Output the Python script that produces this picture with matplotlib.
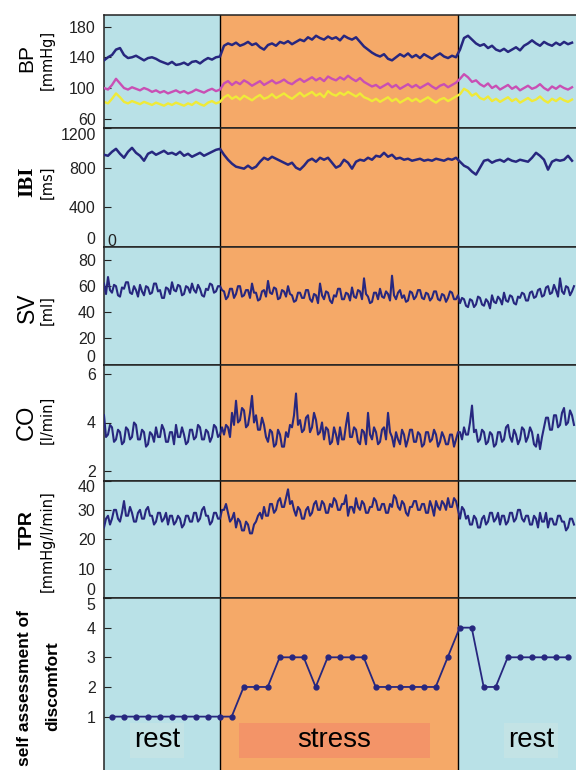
import numpy as np
import matplotlib
matplotlib.use('Agg')
import matplotlib.pyplot as plt
from matplotlib.patches import Rectangle

plt.rcParams['font.family'] = ['Liberation Sans', 'DejaVu Sans']

# time axis in minutes: rest 0-9.8, stress 9.8-30, rest until the right edge
REST_END = 9.83
STRESS_END = 30.0
T_END = 40.0
STEP = 0.339          # sampling of the smoother traces
STEP_FINE = 0.1695    # sampling of the noisy traces
SEG_START = [0.0, 10.17, 30.17]

# blood pressure [mmHg]: systolic (navy), mean (pink), diastolic (yellow)
bp_sys_rest1 = [136, 140, 143, 150, 152, 143, 139, 140, 142, 139, 136, 139, 140, 138, 135,
                133, 131, 134, 130, 131, 133, 130, 134, 135, 132, 136, 139, 137, 140, 141]
bp_sys_stress = [155, 158, 156, 159, 155, 157, 160, 156, 158, 153, 150, 156, 158, 155, 160,
                 158, 161, 157, 160, 163, 161, 166, 163, 168, 165, 163, 167, 164, 166, 162,
                 168, 165, 163, 166, 160, 154, 150, 146, 143, 141, 144, 138, 136, 140, 144,
                 141, 145, 140, 143, 139, 144, 141, 138, 142, 145, 141, 139, 142, 140]
bp_sys_rest2 = [150, 165, 168, 163, 158, 155, 157, 152, 155, 150, 148, 151, 147, 150, 153,
                149, 155, 158, 162, 158, 155, 160, 157, 155, 159, 156, 160, 157, 159]

bp_mean_rest1 = [100, 98, 104, 112, 106, 100, 98, 101, 99, 97, 100, 98, 95, 97, 94,
                 96, 93, 95, 97, 94, 96, 93, 95, 98, 96, 94, 97, 99, 96, 98]
bp_mean_stress = [106, 109, 104, 108, 105, 110, 107, 103, 106, 109, 104, 107, 110, 106, 108,
                  111, 107, 105, 109, 112, 108, 111, 114, 110, 113, 109, 115, 112, 110, 114,
                  111, 116, 112, 109, 113, 108, 105, 102, 104, 100, 103, 106, 101, 104, 99,
                  102, 105, 101, 104, 100, 103, 106, 102, 99, 103, 105, 101, 104, 107]
bp_mean_rest2 = [112, 118, 114, 108, 110, 105, 102, 106, 100, 103, 98, 101, 104, 99, 102,
                 97, 100, 103, 99, 101, 105, 100, 97, 102, 99, 103, 100, 98, 101]

bp_dia_rest1 = [82, 80, 86, 93, 88, 82, 80, 83, 81, 79, 82, 80, 78, 81, 79,
                77, 80, 78, 81, 79, 77, 80, 78, 82, 79, 77, 81, 83, 80, 82]
bp_dia_stress = [88, 91, 86, 89, 85, 90, 87, 84, 88, 91, 86, 88, 92, 87, 90,
                 93, 89, 86, 90, 94, 89, 92, 95, 90, 93, 88, 96, 92, 90, 94,
                 91, 95, 92, 89, 93, 88, 86, 83, 86, 82, 85, 88, 83, 86, 81,
                 84, 87, 83, 86, 82, 85, 88, 84, 81, 85, 87, 83, 86, 89]
bp_dia_rest2 = [92, 99, 96, 90, 93, 87, 85, 89, 83, 86, 82, 85, 88, 83, 86,
                81, 84, 87, 83, 85, 89, 84, 81, 86, 83, 87, 84, 82, 85]

# inter-beat interval [ms]
ibi_rest1 = [930, 920, 960, 990, 940, 900, 960, 1000, 950, 920, 870, 940, 960, 930, 950,
             970, 940, 950, 930, 960, 920, 940, 910, 930, 950, 920, 940, 960, 980, 990]
ibi_stress = [930, 880, 840, 810, 800, 790, 820, 790, 810, 860, 900, 880, 910, 890, 870,
              850, 830, 850, 800, 780, 820, 870, 890, 860, 900, 880, 900, 850, 800, 820,
              880, 850, 790, 860, 880, 870, 900, 880, 920, 910, 950, 910, 930, 890, 900,
              880, 890, 870, 880, 890, 870, 880, 870, 890, 880, 870, 890, 880, 900]
ibi_rest2 = [860, 820, 800, 760, 730, 800, 870, 880, 850, 870, 880, 860, 890, 870, 860,
             880, 870, 860, 900, 950, 920, 880, 780, 860, 880, 870, 880, 920, 870]

# stroke volume [ml]
sv_rest1 = [62, 54, 67, 57, 55, 61, 60, 53, 52, 59, 58, 63, 63, 55, 54, 60, 57, 52, 61, 56,
            53, 60, 59, 54, 55, 62, 62, 56, 57, 51, 51, 59, 58, 54, 63, 57, 56, 61, 60, 53,
            54, 60, 59, 55, 62, 57, 55, 61, 58, 53, 52, 58, 57, 62, 61, 55, 56, 60, 60, 57]
sv_stress = [56, 50, 52, 58, 58, 51, 54, 60, 60, 52, 53, 57, 57, 51, 62, 55, 55, 49, 50, 56,
             57, 52, 64, 55, 54, 59, 58, 50, 51, 57, 56, 52, 60, 54, 53, 48, 49, 55, 55, 51,
             51, 57, 57, 50, 48, 54, 53, 47, 62, 53, 50, 56, 55, 49, 47, 53, 52, 58, 58, 50,
             50, 55, 54, 49, 59, 52, 51, 57, 56, 50, 66, 54, 52, 47, 48, 55, 55, 50, 58, 52,
             51, 56, 54, 49, 68, 53, 50, 55, 57, 51, 53, 48, 49, 56, 55, 50, 52, 57, 57, 51,
             50, 55, 54, 49, 51, 56, 56, 50, 49, 54, 53, 48, 51, 56, 55, 50, 50, 53]
sv_rest2 = [47, 51, 50, 45, 44, 50, 49, 44, 46, 52, 51, 46, 45, 50, 48, 43, 53, 48, 47, 52,
            50, 46, 55, 49, 48, 53, 52, 47, 46, 52, 51, 55, 54, 49, 49, 55, 56, 51, 52, 57,
            58, 52, 53, 59, 60, 54, 55, 61, 57, 52, 66, 56, 54, 60, 59, 53, 56, 60]

# cardiac output [l/min]
co_rest1 = [4.3, 3.4, 3.5, 3.9, 3.8, 3.2, 3.3, 3.7, 3.6, 3.1, 3.2, 3.8, 3.7, 3.3, 3.4, 4.0,
            3.9, 3.3, 3.3, 3.7, 3.6, 3.0, 3.1, 3.6, 3.5, 3.2, 3.8, 3.4, 3.4, 3.9, 3.7, 3.2,
            3.2, 3.6, 3.6, 3.1, 3.9, 3.4, 3.4, 3.8, 3.5, 3.1, 3.2, 3.7, 3.7, 3.3, 3.4, 3.9,
            3.8, 3.3, 3.3, 3.7, 3.6, 3.2, 3.4, 3.9, 3.8, 3.4, 3.5, 3.8]
co_stress = [3.5, 3.9, 3.8, 3.4, 4.4, 3.9, 4.9, 4.0, 4.1, 4.6, 4.5, 3.8, 3.9, 4.4, 5.1, 4.0,
             4.3, 3.7, 3.7, 4.2, 3.9, 3.4, 3.2, 3.7, 3.6, 3.0, 3.1, 3.7, 3.5, 3.0, 3.0, 3.6,
             3.4, 3.9, 3.8, 4.3, 5.2, 3.9, 4.1, 3.6, 3.7, 4.2, 4.3, 3.6, 3.8, 4.4, 4.1, 3.5,
             3.6, 4.0, 3.3, 3.8, 3.7, 3.1, 3.2, 3.8, 3.5, 3.1, 3.8, 3.3, 3.3, 3.9, 4.4, 3.4,
             3.4, 3.8, 3.7, 3.2, 3.1, 3.7, 3.6, 3.1, 4.4, 3.5, 3.3, 3.8, 3.6, 3.1, 3.2, 3.7,
             3.8, 3.3, 4.4, 3.6, 3.4, 3.0, 3.6, 3.3, 3.1, 3.7, 3.5, 3.0, 3.3, 3.7, 3.7, 3.2,
             3.2, 3.6, 3.5, 3.0, 3.1, 3.6, 3.6, 3.2, 3.3, 3.7, 3.5, 3.0, 3.2, 3.6, 3.4, 3.1,
             3.1, 3.5, 3.5, 3.0, 3.3, 3.6]
co_rest2 = [3.6, 3.3, 3.8, 3.5, 3.5, 4.0, 4.7, 3.6, 3.7, 3.2, 3.3, 3.7, 3.6, 3.1, 3.2, 3.6,
            3.5, 3.0, 3.1, 3.6, 3.6, 3.2, 3.3, 3.8, 3.9, 3.4, 3.2, 3.7, 3.5, 3.1, 3.3, 3.8,
            3.7, 3.2, 3.4, 3.8, 3.6, 3.1, 3.0, 3.5, 2.9, 3.4, 3.8, 4.2, 4.2, 3.7, 3.7, 4.3,
            4.3, 3.8, 3.9, 4.4, 4.6, 3.9, 4.0, 4.5, 4.3, 3.9]

# total peripheral resistance [mmHg/l/min]
tpr_rest1 = [24, 27, 28, 25, 27, 30, 30, 27, 26, 29, 33, 28, 28, 31, 29, 26, 26, 29, 30, 27,
             27, 30, 31, 28, 28, 25, 26, 29, 29, 26, 27, 29, 25, 28, 28, 25, 26, 28, 27, 24,
             25, 28, 28, 26, 26, 29, 29, 26, 27, 30, 31, 28, 28, 25, 26, 29, 29, 27, 27, 30]
tpr_stress = [30, 32, 29, 26, 27, 29, 24, 27, 26, 23, 23, 26, 25, 22, 22, 25, 26, 28, 29, 27,
              31, 28, 28, 32, 32, 29, 30, 33, 34, 31, 31, 34, 37, 32, 33, 30, 28, 31, 30, 27,
              27, 30, 31, 28, 29, 32, 33, 30, 30, 33, 32, 29, 29, 32, 31, 34, 33, 30, 30, 32,
              32, 35, 28, 31, 31, 29, 34, 31, 30, 33, 32, 29, 29, 31, 31, 34, 33, 30, 30, 32,
              32, 29, 29, 32, 31, 35, 34, 31, 30, 33, 32, 29, 28, 31, 31, 33, 33, 30, 30, 32,
              32, 29, 29, 33, 31, 28, 33, 31, 30, 33, 32, 30, 34, 31, 31, 34, 33, 30]
tpr_rest2 = [27, 31, 30, 27, 28, 25, 25, 28, 27, 24, 24, 27, 28, 25, 26, 29, 29, 26, 27, 29,
             25, 28, 28, 25, 26, 29, 29, 26, 27, 30, 30, 27, 26, 28, 28, 25, 25, 28, 27, 24,
             29, 26, 26, 29, 24, 27, 27, 25, 25, 28, 28, 26, 26, 23, 24, 27, 27, 25]

# self assessment of discomfort, one rating per minute
sa_values = [1, 1, 1, 1, 1, 1, 1, 1, 1, 1, 1, 2, 2, 2, 3, 3, 3, 2, 3, 3,
             3, 3, 2, 2, 2, 2, 2, 2, 3, 4, 4, 2, 2, 3, 3, 3, 3, 3, 3]
sa_time = 0.65 + 1.017 * np.arange(len(sa_values))

phase_names = ['rest', 'stress', 'rest']
phase_label_x = [4.5, 19.5, 36.2]

BG_REST = '#b9e1e7'
BG_STRESS = '#f5a968'
NAVY = '#27277f'
PINK = '#c94fb4'
YELLOW = '#efea38'


def segment_times(segments, step=STEP):
    return np.concatenate([s0 + np.arange(len(seg)) * step for s0, seg in zip(SEG_START, segments)])


def draw_background(ax):
    ax.axvspan(0, REST_END, color=BG_REST, lw=0, zorder=0)
    ax.axvspan(REST_END, STRESS_END, color=BG_STRESS, lw=0, zorder=0)
    ax.axvspan(STRESS_END, T_END, color=BG_REST, lw=0, zorder=0)
    for xb in (REST_END, STRESS_END):
        ax.axvline(xb, color='black', lw=1.0, zorder=1)
    ax.set_xlim(0, T_END)
    ax.set_xticks([])
    ax.spines['right'].set_visible(False)
    for side in ('top', 'bottom', 'left'):
        ax.spines[side].set_color('#222222')
        ax.spines[side].set_linewidth(1.1)
    ax.tick_params(axis='y', direction='in', length=5, pad=6, labelsize=11.5, colors='#222222')


W, H = 576, 770
fig = plt.figure(figsize=(W / 100, H / 100), dpi=100)

# panel top/bottom in pixels
panel_px = [(15, 128), (128, 247), (247, 364.5), (364.5, 480.5), (480.5, 598), (598, 770)]
left = 104 / W
axes = []
for top, bot in panel_px:
    axes.append(fig.add_axes([left, 1 - bot / H, 1 - left, (bot - top) / H]))

for ax in axes:
    draw_background(ax)

# BP
ax = axes[0]
tb = segment_times([bp_sys_rest1, bp_sys_stress, bp_sys_rest2])
ax.plot(tb, bp_dia_rest1 + bp_dia_stress + bp_dia_rest2, color=YELLOW, lw=1.7, zorder=2)
ax.plot(tb, bp_mean_rest1 + bp_mean_stress + bp_mean_rest2, color=PINK, lw=1.7, zorder=3)
ax.plot(tb, bp_sys_rest1 + bp_sys_stress + bp_sys_rest2, color=NAVY, lw=1.8, zorder=4)
ax.set_ylim(48, 195)
ax.set_yticks([60, 100, 140, 180])

# IBI
ax = axes[1]
ax.plot(segment_times([ibi_rest1, ibi_stress, ibi_rest2]), ibi_rest1 + ibi_stress + ibi_rest2,
        color=NAVY, lw=1.8, zorder=4)
ax.set_ylim(0, 1200)
ax.set_yticks([0, 400, 800, 1200])
ax.text(0.25, 15, '0', fontsize=11.5, color='#222222', zorder=5)

# SV
ax = axes[2]
ax.plot(segment_times([sv_rest1, sv_stress, sv_rest2], STEP_FINE), sv_rest1 + sv_stress + sv_rest2,
        color=NAVY, lw=1.5, zorder=4)
ax.set_ylim(0, 90)
ax.set_yticks([0, 20, 40, 60, 80])

# CO
ax = axes[3]
ax.plot(segment_times([co_rest1, co_stress, co_rest2], STEP_FINE), co_rest1 + co_stress + co_rest2,
        color=NAVY, lw=1.5, zorder=4)
ax.set_ylim(1.6, 6.4)
ax.set_yticks([2, 4, 6])

# TPR
ax = axes[4]
ax.plot(segment_times([tpr_rest1, tpr_stress, tpr_rest2], STEP_FINE), tpr_rest1 + tpr_stress + tpr_rest2,
        color=NAVY, lw=1.5, zorder=4)
ax.set_ylim(0, 40)
ax.set_yticks([0, 10, 20, 30, 40])

# self assessment
ax = axes[5]
ax.plot(sa_time, sa_values, color=NAVY, lw=1.3, marker='o', ms=3.5, zorder=4)
ax.set_ylim(-0.8, 5.0)
ax.set_yticks([1, 2, 3, 4, 5])
ax.spines['bottom'].set_visible(False)

# phase labels at the bottom
ax.add_patch(Rectangle((11.45, -0.38), 16.2, 1.17, color='#f39468', lw=0, zorder=2))
for name, xl in zip(phase_names, phase_label_x):
    if name == 'rest':
        ax.add_patch(Rectangle((xl - 2.3, -0.38), 4.6, 1.17, color='#c3e3e5', lw=0, zorder=2))
    ax.text(xl, 0.2, name, ha='center', va='center', fontsize=20, zorder=3)

# keep edge tick labels inside their own panel
for ax in axes:
    lo, hi = ax.get_ylim()
    for lab, val in zip(ax.get_yticklabels(), ax.get_yticks()):
        if abs(val - hi) < 1e-6:
            lab.set_va('top')
        elif abs(val - lo) < 1e-6:
            lab.set_va('bottom')


def fx(px):
    return px / W


def fy(py):
    return 1 - py / H


# y labels: name, centre y in pixels, size, weight, serif?
names = [('BP', 58, 15, 'normal', False), ('IBI', 182, 15, 'bold', True),
         ('SV', 308, 16.5, 'normal', False), ('CO', 422, 17, 'normal', False),
         ('TPR', 530, 14, 'bold', False)]
units = [('[mmHg]', 60), ('[ms]', 182), ('[ml]', 310), ('[l/min]', 420), ('[mmHg/l/min]', 541)]
for (txt, py, size, wt, serif), (utxt, upy) in zip(names, units):
    family = ['Liberation Serif', 'DejaVu Serif'] if serif else ['Liberation Sans', 'DejaVu Sans']
    fig.text(fx(27), fy(py), txt, rotation=90, ha='center', va='center', fontsize=size,
             fontweight=wt, family=family)
    fig.text(fx(47), fy(upy), utxt, rotation=90, ha='center', va='center', fontsize=10.5,
             family=['DejaVu Sans'])

fig.text(fx(25), fy(688), 'self assessment of', rotation=90, ha='center', va='center',
         fontsize=12.5, fontweight='bold')
fig.text(fx(53), fy(686), 'discomfort', rotation=90, ha='center', va='center',
         fontsize=12.5, fontweight='bold')

fig.savefig('out.png', dpi=100)
